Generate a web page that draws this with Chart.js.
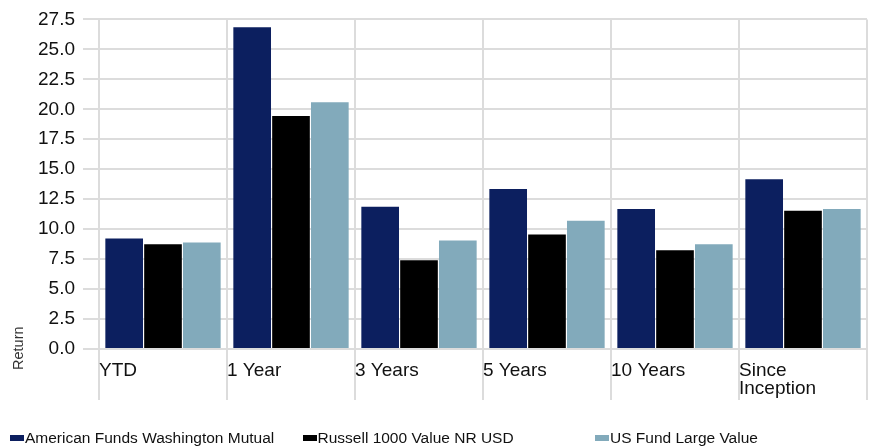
<!DOCTYPE html>
<html>
<head>
<meta charset="utf-8">
<script src="https://cdn.jsdelivr.net/npm/chart.js@4/dist/chart.umd.min.js"></script>
<style>
  html, body { margin: 0; padding: 0; background: #fff; }
  #wrap { position: relative; width: 874px; height: 446px; }
  canvas { position: absolute; left: 0; top: 0; }
  #legend { position: absolute; left: 10px; top: 429px; height: 18px; display: flex;
            font-family: "Liberation Sans", Arial, sans-serif; font-size: 15.5px; color: #111; }
  .item { width: 292.5px; display: flex; align-items: center; white-space: nowrap; line-height: 18px; }
  .box { width: 14px; height: 6px; display: inline-block; margin-right: 1px; }
</style>
</head>
<body>
<div id="wrap">
  <canvas id="c" width="874" height="446"></canvas>
  <div id="legend"></div>
</div>
<script>
const categories = ['YTD', '1 Year', '3 Years', '5 Years', '10 Years', ['Since', 'Inception']];
const seriesNames = ['American Funds Washington Mutual', 'Russell 1000 Value NR USD', 'US Fund Large Value'];
const fundValues = [9.22, 26.84, 11.86, 13.34, 11.69, 14.16];
const indexValues = [8.73, 19.43, 7.41, 9.55, 8.23, 11.53];
const categoryValues = [8.89, 20.58, 9.06, 10.70, 8.73, 11.69];
const seriesColors = ['#0c1f5f', '#000000', '#82aabb'];
const yTitle = 'Return';
const yMin = 0, yMax = 27.5, yStep = 2.5;

const FONT = '"Liberation Sans", Arial, sans-serif';

const yTitlePlugin = {
  id: 'yTitle',
  afterDraw(chart) {
    const ctx = chart.ctx;
    ctx.save();
    ctx.translate(19, 370);
    ctx.rotate(-Math.PI / 2);
    ctx.font = '14.5px ' + FONT;
    ctx.fillStyle = '#333';
    ctx.textAlign = 'left';
    ctx.textBaseline = 'middle';
    ctx.fillText(yTitle, 0, 0);
    ctx.restore();
  }
};

const allValues = [fundValues, indexValues, categoryValues];
new Chart(document.getElementById('c'), {
  type: 'bar',
  data: {
    labels: categories,
    datasets: seriesNames.map((n, i) => ({
      label: n,
      data: allValues[i],
      backgroundColor: seriesColors[i],
      borderWidth: 0,
      barPercentage: 0.97,
      categoryPercentage: 0.91
    }))
  },
  options: {
    responsive: false,
    animation: false,
    layout: { padding: { top: 15, right: 7, bottom: 46, left: 0 } },
    plugins: { legend: { display: false }, tooltip: { enabled: false } },
    scales: {
      x: {
        offset: true,
        grid: { offset: true, color: '#dcdcdc', lineWidth: 2, tickLength: 51, drawTicks: true },
        border: { display: false },
        ticks: {
          align: 'start',
          labelOffset: -64,
          padding: -38,
          color: '#111',
          maxRotation: 0,
          autoSkip: false,
          font: { family: FONT, size: 19, lineHeight: 0.95 }
        },
        afterFit(s) { s.height = 51; }
      },
      y: {
        min: yMin, max: yMax,
        grid: { color: '#dcdcdc', lineWidth: 2, tickLength: 16 },
        border: { display: false },
        ticks: {
          stepSize: yStep,
          padding: 8,
          color: '#111',
          font: { family: FONT, size: 19 },
          callback: v => Number(v).toFixed(1)
        },
        afterFit(s) { s.width = 99; }
      }
    }
  },
  plugins: [yTitlePlugin]
});

const legend = document.getElementById('legend');
seriesNames.forEach((n, i) => {
  const it = document.createElement('div');
  it.className = 'item';
  const b = document.createElement('span');
  b.className = 'box';
  b.style.background = seriesColors[i];
  const t = document.createElement('span');
  t.textContent = n;
  it.appendChild(b); it.appendChild(t);
  legend.appendChild(it);
});
</script>
</body>
</html>
